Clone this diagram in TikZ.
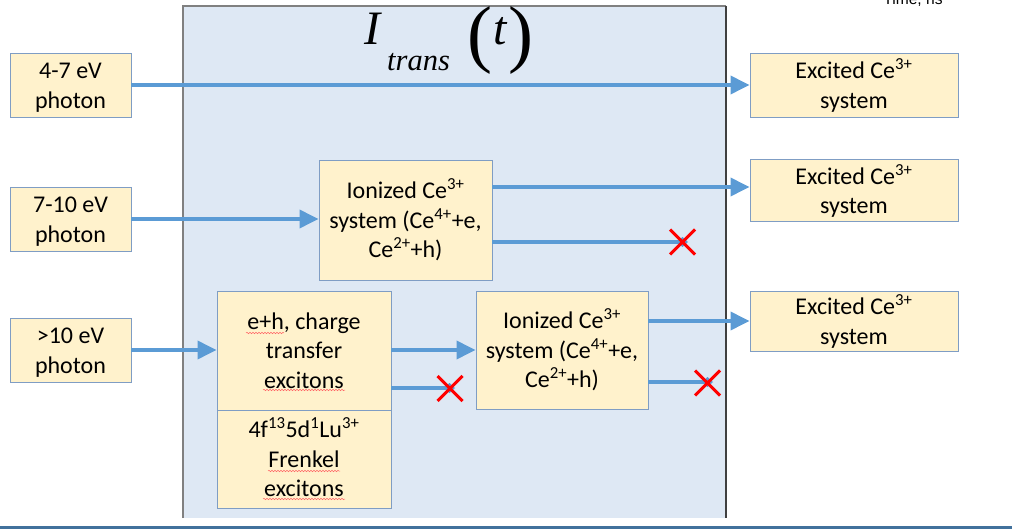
\documentclass[tikz,border=0pt]{standalone}
\usepackage{fontspec}
\setmainfont{Carlito}
\newfontfamily\serifit{Liberation Serif}
\newfontfamily\arialfont{Liberation Sans}
\usetikzlibrary{arrows.meta,decorations.pathmorphing}

\definecolor{panelfill}{HTML}{DEE8F4}
\definecolor{boxfill}{HTML}{FFF2CC}
\definecolor{boxline}{HTML}{7F9DC4}
\definecolor{flow}{HTML}{5B9BD5}
\definecolor{rulecol}{HTML}{41719C}

% centred lines with a fixed pitch, set a little low as in the slide text boxes
\newcommand\stk[1]{\raisebox{-2.5bp}[\height][\depth]{\begin{tabular}{@{}c@{}}#1\end{tabular}}}

\tikzset{
  stage/.style={draw=boxline, line width=0.9bp, fill=boxfill,
    inner sep=0pt, font=\fontsize{24bp}{29.5bp}\selectfont},
  flowarrow/.style={draw=flow, line width=3.5bp, -{Triangle[length=19bp,width=18bp]}},
  deadend/.style={draw=flow, line width=3.5bp, -{Diamond[length=11bp,width=10bp]}},
  cross/.style={draw=red, line width=3bp},
  spell/.style={draw=red!60, line width=0.5bp, decorate,
    decoration={snake, amplitude=0.7bp, segment length=3bp}}
}

\begin{document}
\begin{tikzpicture}[x=1bp,y=-1bp]
\useasboundingbox (0,0) rectangle (1012,529);
\clip (0,0) rectangle (1012,529);

% time-window panel
\fill[panelfill] (183,6) rectangle (726,518);
\draw[gray, line width=1.5bp] (183,518) -- (183,6) -- (726,6);
\draw[black!75, line width=1.5bp] (726,6) -- (726,518);

% axis caption above the panel and the base rule
\node[font=\arialfont\fontsize{15.6bp}{16bp}\selectfont, anchor=base, inner sep=0pt] (tlabel) at (913,4.5) {Time, ns};
\fill[rulecol] (0,525.5) rectangle (1012,529);

% title
\node[anchor=base west, inner sep=0pt] (title) at (364,45)
  {\serifit\fontsize{48bp}{48bp}\selectfont\itshape I\hspace{7bp}\raisebox{-26bp}{\fontsize{30.5bp}{30bp}\selectfont trans}\hspace{18bp}\raisebox{-14bp}{\upshape\fontsize{75bp}{75bp}\selectfont(}\hspace{1bp}t\hspace{1bp}\raisebox{-14bp}{\upshape\fontsize{75bp}{75bp}\selectfont)}};

% photon sources
\node[stage, minimum width=121bp, minimum height=64bp] (p1) at (70.5,85) {\stk{4-7 eV\\photon}};
\node[stage, minimum width=121bp, minimum height=64bp] (p2) at (70.5,219) {\stk{7-10 eV\\photon}};
\node[stage, minimum width=121bp, minimum height=64bp] (p3) at (70.5,350) {\stk{>10 eV\\photon}};

% excited states
\node[stage, minimum width=208bp, minimum height=64bp] (e1) at (854,85) {\stk{Excited Ce\textsuperscript{3+}\\system}};
\node[stage, minimum width=208bp, minimum height=62bp] (e2) at (854,190.5) {\stk{Excited Ce\textsuperscript{3+}\\system}};
\node[stage, minimum width=208bp, minimum height=60bp] (e3) at (854,321) {\stk{Excited Ce\textsuperscript{3+}\\system}};

% intermediate states
\node[stage, minimum width=173bp, minimum height=120bp] (ion1) at (405.5,220) {\stk{Ionized Ce\textsuperscript{3+}\\system (Ce\textsuperscript{4+}+e,\\Ce\textsuperscript{2+}+h)}};
\node[stage, minimum width=172bp, minimum height=118bp] (ion2) at (562,350) {\stk{Ionized Ce\textsuperscript{3+}\\system (Ce\textsuperscript{4+}+e,\\Ce\textsuperscript{2+}+h)}};
\node[stage, minimum width=174bp, minimum height=119bp] (eh) at (304,350.5) {\stk{e+h, charge\\transfer\\excitons}};
\node[stage, minimum width=174bp, minimum height=98bp] (fr) at (304,459) {\stk{4f\textsuperscript{13}5d\textsuperscript{1}Lu\textsuperscript{3+}\\Frenkel\\excitons}};

% spell-check marks under words
\draw[spell] (246,333) -- (284,333);
\draw[spell] (263,390) -- (345,390);
\draw[spell] (268,471) -- (340,471);
\draw[spell] (263,499) -- (345,499);

% transfers
\draw[flowarrow] (p1.east) -- (e1.west);
\draw[flowarrow] (p2.east) -- (ion1.west |- p2.east);
\draw[flowarrow] (ion1.east |- 0,187) -- (e2.west |- 0,187);
\draw[flowarrow] (p3.east) -- (eh.west |- p3.east);
\draw[flowarrow] (eh.east |- 0,350) -- (ion2.west |- 0,350);
\draw[flowarrow] (ion2.east |- 0,321) -- (e3.west |- 0,321);

% losses
\coordinate (d1) at (688,242);
\coordinate (d2) at (455,388);
\coordinate (d3) at (713,382);
\draw[deadend] (ion1.east |- d1) -- (d1);
\draw[deadend] (eh.east |- d2) -- (d2);
\draw[deadend] (ion2.east |- d3) -- (d3);
\draw[cross] (d1) ++(-18,-12.5) -- ++(25,25) (d1) ++(-18,12.5) -- ++(25,-25);
\draw[cross] (d2) ++(-17.5,-12) -- ++(25,25) (d2) ++(-17.5,13) -- ++(25,-25);
\draw[cross] (d3) ++(-18,-11.5) -- ++(25,25) (d3) ++(-18,13.5) -- ++(25,-25);
\end{tikzpicture}
\end{document}
